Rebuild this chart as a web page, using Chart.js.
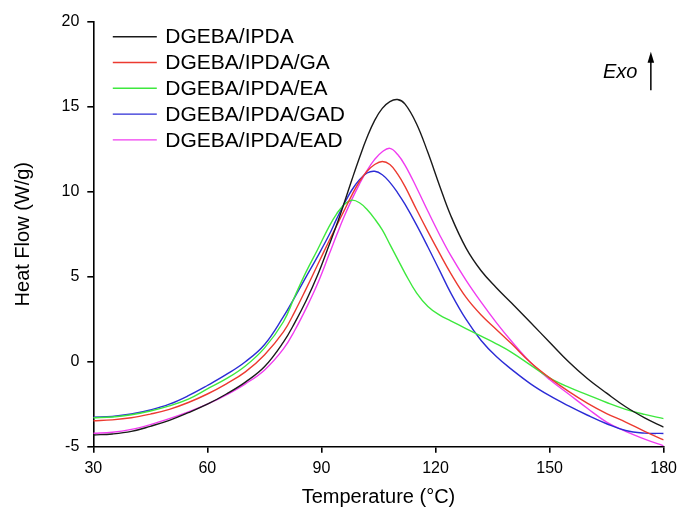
<!DOCTYPE html>
<html><head><meta charset="utf-8">
<script src="https://cdn.jsdelivr.net/npm/chart.js@4/dist/chart.umd.min.js"></script>
<style>html,body{margin:0;padding:0;background:#fff;}</style>
</head><body>
<canvas id="c" width="683" height="513"></canvas>
<script>
const temps = [30,35,40,45,50,55,60,65,70,75, 80,83,86,89,92,94,96,98,100,102, 104,106,108,110,112,115,118,121,124,128, 132,136,140,145,150,155,160,165,170,175, 180];
const seriesNames = ['DGEBA/IPDA','DGEBA/IPDA/GA','DGEBA/IPDA/EA','DGEBA/IPDA/GAD','DGEBA/IPDA/EAD'];
const ipda = [-4.31,-4.25,-4.1,-3.8,-3.45,-3.0,-2.5,-1.9,-1.2,-0.3, 1.15,2.3,3.6,5.1,6.85,8.05,9.35,10.7,12.0,13.2, 14.2,14.9,15.3,15.42,15.15,14.0,12.3,10.4,8.6,6.7, 5.35,4.35,3.45,2.3,1.15,0.0,-1.0,-1.85,-2.65,-3.3, -3.85];
const ipdaGA = [-3.47,-3.42,-3.3,-3.08,-2.8,-2.4,-1.9,-1.3,-0.6,0.4, 1.75,2.95,4.3,5.7,7.1,8.0,8.9,9.8,10.6,11.2, 11.6,11.78,11.6,11.05,10.3,8.95,7.65,6.4,5.2,3.8, 2.75,1.9,1.05,-0.05,-0.95,-1.75,-2.45,-3.05,-3.55,-4.1, -4.6];
const ipdaEA = [-3.3,-3.25,-3.12,-2.9,-2.6,-2.2,-1.6,-1.0,-0.25,0.8, 2.35,3.85,5.3,6.6,7.95,8.7,9.25,9.5,9.35,8.95, 8.4,7.75,6.9,6.05,5.2,4.05,3.25,2.75,2.4,1.95, 1.5,1.05,0.55,-0.2,-0.95,-1.5,-1.95,-2.4,-2.8,-3.1, -3.35];
const ipdaGAD = [-3.27,-3.22,-3.08,-2.84,-2.5,-2.0,-1.4,-0.75,0.0,1.0, 2.65,3.8,5.0,6.2,7.45,8.4,9.3,10.1,10.7,11.1, 11.2,11.0,10.55,9.95,9.25,8.05,6.75,5.4,4.05,2.5, 1.25,0.3,-0.45,-1.3,-2.0,-2.6,-3.15,-3.65,-4.05,-4.2, -4.22];
const ipdaEAD = [-4.21,-4.15,-3.98,-3.7,-3.35,-2.95,-2.5,-1.95,-1.3,-0.5, 0.75,1.85,3.15,4.6,6.3,7.45,8.55,9.55,10.45,11.25, 11.9,12.35,12.55,12.2,11.55,10.25,8.85,7.5,6.25,4.8, 3.5,2.3,1.2,-0.05,-1.05,-1.9,-2.75,-3.55,-4.1,-4.55, -4.95];
const xTickValues = [30,60,90,120,150,180];
const yTickValues = [-5,0,5,10,15,20];
const colors = ['#1a1a1a','#ec3a30','#3ee83e','#2c2cd6','#f03cf0'];
const allSeries = [ipda, ipdaGA, ipdaEA, ipdaGAD, ipdaEAD];

const FONT = "'Liberation Sans', Arial, sans-serif";

const datasets = allSeries.map((vals, i) => ({
  label: seriesNames[i],
  data: temps.map((t, j) => ({x: t, y: vals[j]})),
  borderColor: colors[i],
  backgroundColor: colors[i],
  borderWidth: 1.4,
  pointRadius: 0,
  tension: 0.4,
  fill: false
}));

const insideLegend = {
  id: 'insideLegend',
  afterDraw(chart) {
    const ctx = chart.ctx, ca = chart.chartArea;
    ctx.save();
    ctx.font = '21px ' + FONT;
    ctx.textBaseline = 'middle';
    ctx.textAlign = 'left';
    chart.data.datasets.forEach((ds, i) => {
      const y = ca.top + 15 + i * 25.8;
      const x0 = ca.left + 19.5;
      ctx.strokeStyle = ds.borderColor;
      ctx.lineWidth = 1.4;
      ctx.beginPath(); ctx.moveTo(x0, y); ctx.lineTo(x0 + 44, y); ctx.stroke();
      ctx.fillStyle = '#000';
      ctx.fillText(ds.label, x0 + 52.5, y + 1);
    });
    const ax = ca.right - 12.8;
    ctx.strokeStyle = '#000';
    ctx.fillStyle = '#000';
    ctx.lineWidth = 1.5;
    ctx.beginPath(); ctx.moveTo(ax, ca.top + 68.5); ctx.lineTo(ax, ca.top + 38); ctx.stroke();
    ctx.beginPath();
    ctx.moveTo(ax, ca.top + 30);
    ctx.lineTo(ax - 3.3, ca.top + 41);
    ctx.lineTo(ax + 3.3, ca.top + 41);
    ctx.closePath(); ctx.fill();
    ctx.font = 'italic 20px ' + FONT;
    ctx.textAlign = 'right';
    ctx.fillText('Exo', ax - 13.5, ca.top + 50.5);
    ctx.restore();
  }
};

new Chart(document.getElementById('c'), {
  type: 'line',
  data: { datasets },
  options: {
    responsive: false,
    animation: false,
    layout: { padding: { left: 0, right: 14.7, top: 21.7, bottom: 0 } },
    plugins: { legend: { display: false }, tooltip: { enabled: false } },
    scales: {
      x: {
        type: 'linear', min: 30, max: 180,
        afterFit: (s) => { s.height = 66.3; },
        afterBuildTicks: (s) => { s.ticks = xTickValues.map(v => ({value: v})); },
        border: { display: true, color: '#000', width: 1.6 },
        grid: { display: true, drawOnChartArea: false, drawTicks: true, tickLength: 6, color: '#000', lineWidth: 1.6 },
        ticks: { color: '#000', font: { family: FONT, size: 16 }, padding: 6, maxRotation: 0 },
        title: { display: true, text: 'Temperature (°C)', color: '#000', font: { family: FONT, size: 20 }, padding: { top: 0, bottom: 4 } }
      },
      y: {
        type: 'linear', min: -5, max: 20,
        afterFit: (s) => { s.width = 93.3; },
        afterBuildTicks: (s) => { s.ticks = yTickValues.map(v => ({value: v})); },
        border: { display: true, color: '#000', width: 1.6 },
        grid: { display: true, drawOnChartArea: false, drawTicks: true, tickLength: 6, color: '#000', lineWidth: 1.6 },
        ticks: { color: '#000', font: { family: FONT, size: 16 }, padding: 8 },
        title: { display: true, text: 'Heat Flow (W/g)', color: '#000', font: { family: FONT, size: 20 }, padding: { top: 11, bottom: 0 } }
      }
    }
  },
  plugins: [insideLegend]
});
</script>
</body></html>
